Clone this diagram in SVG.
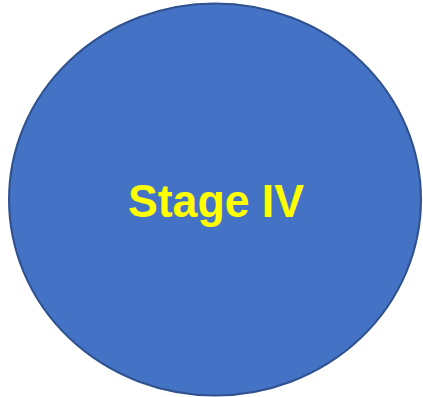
<svg xmlns="http://www.w3.org/2000/svg" width="423" height="397" viewBox="0 0 423 397">
<style>
.node{fill:#4472C4;stroke:#2F528F;stroke-width:2}
.lbl{font-family:"Liberation Sans",Arial,sans-serif;font-weight:bold;font-size:46px;fill:#FFFF00}
</style>
<rect width="423" height="397" fill="#FFFFFF"/>
<g id="stage-iv">
<ellipse class="node" cx="215" cy="199.5" rx="206" ry="196"/>
<text class="lbl" x="216" y="216.5" text-anchor="middle" textLength="176" lengthAdjust="spacingAndGlyphs">Stage IV</text>
</g>
<g id="connectors"></g>
</svg>
